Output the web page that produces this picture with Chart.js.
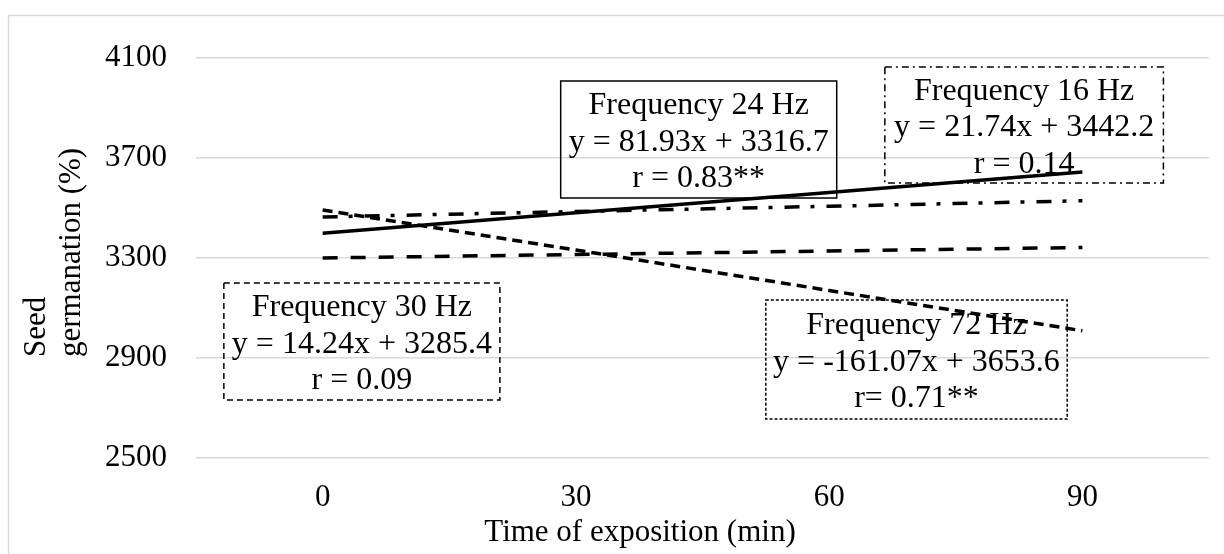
<!DOCTYPE html>
<html>
<head>
<meta charset="utf-8">
<script src="https://cdn.jsdelivr.net/npm/chart.js@4.4.1/dist/chart.umd.min.js"></script>
<style>
  html, body { margin: 0; padding: 0; background: #fff; }
  #wrap { width: 1224px; height: 554px; }
</style>
</head>
<body>
<div id="wrap"><canvas id="seedChart"></canvas></div>
<script>
// Data
const times = ['0', '30', '60', '90'];
const yTicks = [2500, 2900, 3300, 3700, 4100];
const hz24 = [3399, 3481, 3562, 3644];
const hz16 = [3464, 3486, 3507, 3529];
const hz30 = [3300, 3314, 3328, 3342];
const hz72 = [3492, 3332, 3170, 3009];

const text24 = ['Frequency 24 Hz', 'y = 81.93x + 3316.7', 'r = 0.83**'];
const text16 = ['Frequency 16 Hz', 'y = 21.74x + 3442.2', 'r = 0.14'];
const text30 = ['Frequency 30 Hz', 'y = 14.24x + 3285.4', 'r = 0.09'];
const text72 = ['Frequency 72 Hz', 'y = -161.07x + 3653.6', 'r= 0.71**'];

const xTitle = 'Time of exposition (min)';
const yTitle = ['Seed', 'germanation (%)'];

const FONT = '"Liberation Serif", "Times New Roman", serif';

// equation boxes, placed in scale units (category index / y value)
const boxes = [
  { lines: text24, x0: 0.94, x1: 2.03, y0: 4008, y1: 3540, dash: [] },
  { lines: text16, x0: 2.22, x1: 3.32, y0: 4064, y1: 3600, dash: [7, 4, 2, 4] },
  { lines: text30, x0: -0.39, x1: 0.70, y0: 3200, y1: 2732, dash: [6, 4] },
  { lines: text72, x0: 1.75, x1: 2.94, y0: 3132, y1: 2656, dash: [3, 2] }
];

const framePlugin = {
  id: 'frame',
  beforeDraw(chart) {
    const ctx = chart.ctx;
    ctx.save();
    ctx.strokeStyle = '#d9d9d9';
    ctx.lineWidth = 1.5;
    ctx.strokeRect(8.5, 15.5, chart.width + 20, chart.height + 20);
    ctx.restore();
  },
  afterDraw(chart) {
    const ctx = chart.ctx;
    const xs = chart.scales.x;
    const ys = chart.scales.y;
    ctx.save();
    ctx.fillStyle = '#000';
    ctx.strokeStyle = '#000';

    // equation boxes
    boxes.forEach(b => {
      const left = xs.getPixelForValue(b.x0);
      const right = xs.getPixelForValue(b.x1);
      const top = ys.getPixelForValue(b.y0);
      const bottom = ys.getPixelForValue(b.y1);
      ctx.lineWidth = 1.5;
      ctx.setLineDash(b.dash);
      ctx.strokeRect(left, top, right - left, bottom - top);
      ctx.setLineDash([]);
      ctx.font = '32px ' + FONT;
      ctx.textAlign = 'center';
      ctx.textBaseline = 'alphabetic';
      const cx = (left + right) / 2;
      const cy = (top + bottom) / 2;
      b.lines.forEach((t, i) => {
        ctx.fillText(t, cx, cy + (i - 1) * 36.5 + 11);
      });
    });

    // x axis title
    ctx.font = '31px ' + FONT;
    ctx.textAlign = 'center';
    ctx.textBaseline = 'alphabetic';
    ctx.fillText(xTitle, 640, 541);

    // y axis title, two rotated lines starting from the bottom
    ctx.textAlign = 'left';
    ctx.textBaseline = 'middle';
    [37, 72].forEach((x, i) => {
      ctx.save();
      ctx.translate(x, 357);
      ctx.rotate(-Math.PI / 2);
      ctx.fillText(yTitle[i], 0, 0);
      ctx.restore();
    });
    ctx.restore();
  }
};

function lineSet(label, data, dash) {
  return {
    label: label,
    data: data,
    borderColor: '#000',
    backgroundColor: '#000',
    borderWidth: 3.5,
    borderDash: dash,
    pointRadius: 0,
    tension: 0,
    fill: false
  };
}

const ctx = document.getElementById('seedChart').getContext('2d');
new Chart(ctx, {
  type: 'line',
  data: {
    labels: times,
    datasets: [
      lineSet('Frequency 30 Hz', hz30, [15, 13]),
      lineSet('Frequency 16 Hz', hz16, [15, 11, 4, 12]),
      lineSet('Frequency 72 Hz', hz72, [10, 6]),
      lineSet('Frequency 24 Hz', hz24, [])
    ]
  },
  options: {
    responsive: true,
    maintainAspectRatio: false,
    animation: false,
    layout: { padding: { top: 58, right: 15, left: 0, bottom: 0 } },
    plugins: {
      legend: { display: false },
      tooltip: { enabled: false }
    },
    scales: {
      x: {
        type: 'category',
        offset: true,
        grid: { display: false, drawTicks: false },
        border: { display: false },
        ticks: {
          color: '#000',
          padding: 21,
          font: { family: FONT, size: 31 }
        },
        afterFit(scale) { scale.height = 96; }
      },
      y: {
        min: 2500,
        max: 4100,
        afterBuildTicks(scale) {
          scale.ticks = yTicks.map(v => ({ value: v }));
        },
        grid: { color: '#d9d9d9', lineWidth: 1.5, drawTicks: false },
        border: { display: false },
        ticks: {
          color: '#000',
          padding: 29,
          font: { family: FONT, size: 31 },
          callback: (value) => String(value)
        },
        afterFit(scale) { scale.width = 196; }
      }
    }
  },
  plugins: [framePlugin]
});
</script>
</body>
</html>
